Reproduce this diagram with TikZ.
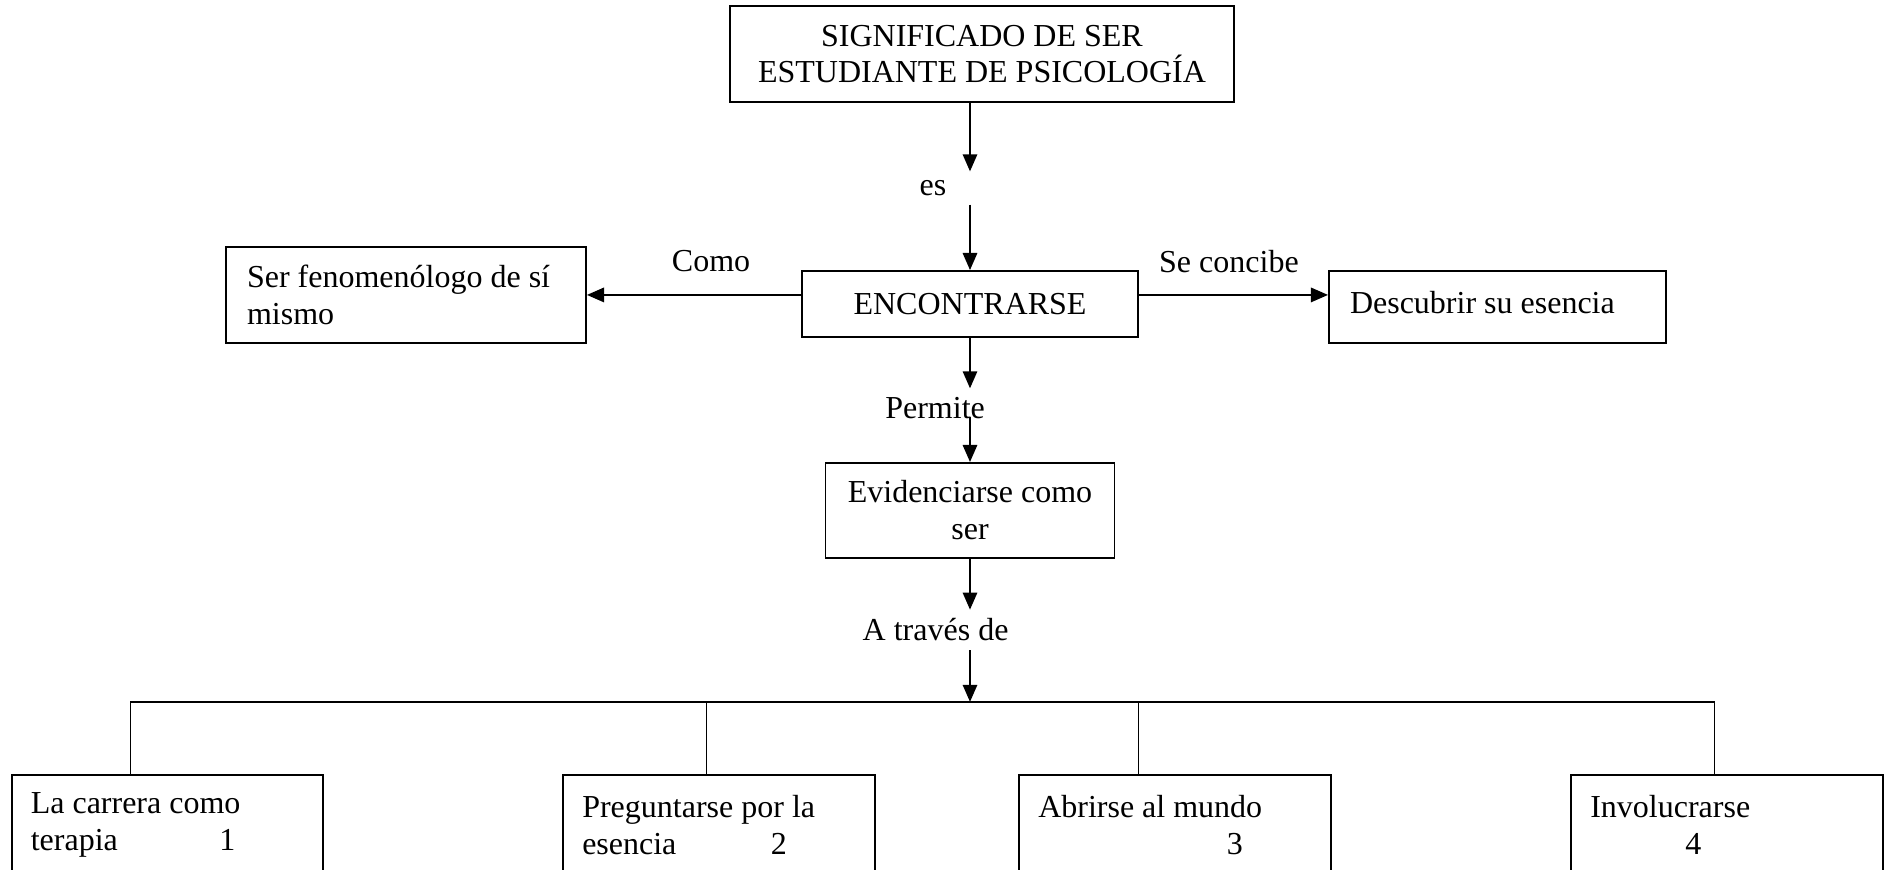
\documentclass[tikz,border=0pt]{standalone}
\usepackage{fontspec}
\setmainfont{Liberation Serif}
\usetikzlibrary{positioning, arrows.meta, calc}

\begin{document}
\begin{tikzpicture}[x=0.375pt, y=-0.375pt, on grid, line width=0.7pt,
    font=\fontsize{12pt}{13.8pt}\selectfont,
    >={Triangle[length=6.4pt,width=5.4pt]},
    caja/.style={draw, inner sep=2pt},
    cajaizq/.style={caja, align=flush left, inner xsep=7.9pt},
    opcion/.style={cajaizq, inner xsep=7.1pt, text width=102.6pt, minimum height=37.5pt},
    etiq/.style={inner sep=3pt}]

  \useasboundingbox (0,0) rectangle (1886,870);

  \node[caja, align=center, minimum width=189pt, minimum height=36pt] (sig) at (982,54) {SIGNIFICADO DE SER\\ESTUDIANTE DE PSICOLOGÍA};
  \node[caja, minimum width=126pt, minimum height=24.75pt] (enc) [below=93.75pt of sig, xshift=-4.5pt] {ENCONTRARSE};
  \node[cajaizq, text width=119.2pt, minimum height=36pt] (fen) [left=211.5pt of enc, yshift=3.4pt] {Ser fenomenólogo de sí\\mismo};
  \node[cajaizq, text width=110.6pt, minimum height=27pt, text depth=3.5pt] (desc) [right=197.8pt of enc, yshift=-1.1pt] {Descubrir su esencia};
  \node[caja, align=center, minimum width=108.4pt, minimum height=35.6pt] (evid) [below=77.4pt of enc] {Evidenciarse como\\ser};

  \node[opcion] (b1) [below=117.9pt of evid, xshift=-300.9pt] {La carrera como\\\makebox[70.7pt][l]{terapia}1};
  \node[opcion] (b2) [right=206.8pt of b1] {Preguntarse por la\\\makebox[70.7pt][l]{esencia}2};
  \node[opcion] (b3) [right=171pt of b2] {Abrirse al mundo\\\hspace*{70.7pt}3};
  \node[opcion] (b4) [right=207pt of b3] {Involucrarse\\\hspace*{35.7pt}4};

  % etiquetas de los conectores
  \node[etiq] (es) [below=50.25pt of sig, xshift=-18.4pt] {es};
  \node[etiq] (como) [left=97.1pt of enc, yshift=16.1pt] {Como};
  \node[etiq] (concibe) [right=97.1pt of enc, yshift=16.1pt] {Se concibe};
  \node[etiq] (permite) [below=39pt of enc, xshift=-13.1pt] {Permite};
  \node[etiq] (traves) [below=44.8pt of evid, xshift=-12.9pt] {A través de};
  \coordinate[below=71.8pt of evid] (bar);

  \draw[->] (sig.south -| enc) -- (es.north -| enc);
  \draw[->] (es.south -| enc) -- (enc.north);
  \draw[->] (enc.west |- fen) -- (fen.east);
  \draw[->] (enc.east |- fen) -- (desc.west |- fen);
  \draw[->] (enc.south) -- (permite.north -| enc);
  \draw[->] ($(permite.south -| evid)+(0,4pt)$) -- (evid.north);
  \draw[->] (evid.south) -- (traves.north -| evid);
  \draw[->] (traves.south -| evid) -- (bar);

  \foreach \b/\dx in {1/-13.9pt, 2/-4.7pt, 3/-13.7pt, 4/-4.7pt}
    \coordinate (p\b) at ([xshift=\dx]b\b.north);
  \draw (p1) |- (bar) -| (p4);
  \draw (p2) -- (p2 |- bar);
  \draw (p3) -- (p3 |- bar);
\end{tikzpicture}
\end{document}
